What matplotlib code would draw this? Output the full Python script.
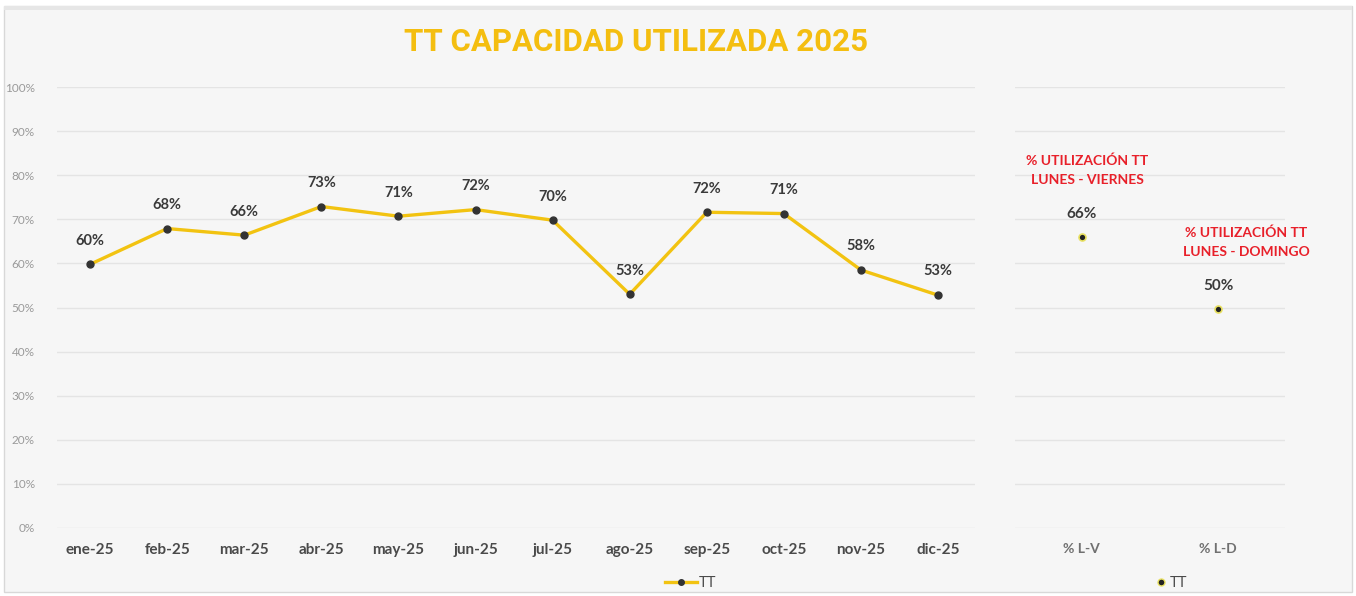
import matplotlib
matplotlib.use("Agg")
import matplotlib.pyplot as plt
from matplotlib.patches import Rectangle
from matplotlib.lines import Line2D

months = ["ene-25", "feb-25", "mar-25", "abr-25", "may-25", "jun-25",
          "jul-25", "ago-25", "sep-25", "oct-25", "nov-25", "dic-25"]
tt_monthly = [0.598, 0.679, 0.664, 0.729, 0.707, 0.722,
              0.698, 0.530, 0.716, 0.713, 0.585, 0.528]
summary_cats = ["% L-V", "% L-D"]
summary_vals = [0.659, 0.496]
summary_notes = ["% UTILIZACIÓN TT\nLUNES - VIERNES", "% UTILIZACIÓN TT\nLUNES - DOMINGO"]
yticks = [0, 0.1, 0.2, 0.3, 0.4, 0.5, 0.6, 0.7, 0.8, 0.9, 1.0]
title = "TT CAPACIDAD UTILIZADA 2025"
series_name = "TT"

GOLD = "#F2C311"
TITLE_GOLD = "#F4BE10"
DARK = "#3a3a3a"
GRID = "#e4e4e4"
BG = "#f6f6f6"
RED = "#e8202a"

plt.rcParams['font.family'] = ['Lato', 'DejaVu Sans']

fig = plt.figure(figsize=(13.56, 5.96), dpi=100)
fig.patch.set_facecolor("#ffffff")
fig.patches.append(Rectangle((4/1356, 4/596), 1348/1356, 586/596, transform=fig.transFigure,
                             facecolor=BG, edgecolor="#d8d8d8", lw=1.0, zorder=-10))
fig.patches.append(Rectangle((4/1356, 586/596), 1348/1356, 4/596, transform=fig.transFigure,
                             facecolor="#e6e6e6", edgecolor="none", zorder=-9))

ax = fig.add_axes([57/1356, 1-528/596, (975-57)/1356, (528-87)/596])
ax2 = fig.add_axes([1015/1356, 1-528/596, (1285-1015)/1356, (528-87)/596])

for a in (ax, ax2):
    a.set_facecolor("none")
    for s in a.spines.values():
        s.set_visible(False)
    a.set_ylim(0, 1.0)
    a.set_yticks(yticks)
    a.grid(axis="y", color=GRID, lw=1.0)
    a.set_axisbelow(True)
    a.tick_params(length=0)

# Left chart
x = list(range(len(months)))
ax.plot(x, tt_monthly, color=GOLD, lw=2.4, marker="o", ms=5,
        mfc="#333333", mec="#333333", zorder=3)
ax.set_xlim(-0.43, 11.48)
ax.set_xticks(x)
ax.set_xticklabels(months, fontsize=11, color="#4a4a4a", fontweight="bold")
ax.set_yticklabels([f"{int(round(v*100))}%" for v in yticks], fontsize=8.5, color="#9a9a9a")
ax.tick_params(axis="x", pad=11)
ax.tick_params(axis="y", pad=16)
for xi, v in zip(x, tt_monthly):
    ax.annotate(f"{v:.0%}", (xi, v), xytext=(0, 12), textcoords="offset points",
                ha="center", va="bottom", fontsize=10.5, color=DARK, fontweight="bold")

leg1 = ax.legend([Line2D([], [], color=GOLD, lw=2.4, marker="o", ms=4, mfc="#333333", mec="#333333")],
                 [series_name], loc="upper center", bbox_to_anchor=(0.69, -0.08),
                 frameon=False, fontsize=10.5, handlelength=2.2, handletextpad=0.1)
for t in leg1.get_texts():
    t.set_color("#4a4a4a")

# Right chart
x2 = list(range(len(summary_cats)))
ax2.plot(x2, summary_vals, ls="none", marker="o", ms=5, mfc="#222222", mec="#e8e060", mew=1.2, zorder=3)
ax2.set_xlim(-0.49, 1.49)
ax2.set_xticks(x2)
ax2.set_xticklabels(summary_cats, fontsize=10, color="#707070", fontweight="bold")
ax2.tick_params(axis="x", pad=11)
ax2.set_yticklabels([])
for xi, v, note in zip(x2, summary_vals, summary_notes):
    ax2.annotate(f"{v:.0%}", (xi, v), xytext=(0, 12), textcoords="offset points",
                 ha="center", va="bottom", fontsize=11, color=DARK, fontweight="bold")
    ax2.annotate(note, (xi, v), xytext=(4 if xi == 0 else 20, 37), textcoords="offset points",
                 ha="center", va="bottom", fontsize=10, color=RED, fontweight="bold",
                 linespacing=1.65)

leg2 = ax2.legend([Line2D([], [], ls="none", marker="o", ms=5, mfc="#222222", mec="#e8e060")],
                  [series_name], loc="upper center", bbox_to_anchor=(0.58, -0.08),
                  frameon=False, fontsize=10.5, handlelength=0.8, handletextpad=0.2)
for t in leg2.get_texts():
    t.set_color("#4a4a4a")

fig.text(636/1356, 1-42/596, title, ha="center", va="center", fontsize=22.5,
         fontweight="bold", color=TITLE_GOLD, family=['Roboto', 'DejaVu Sans'])

fig.savefig("out.png", dpi=100, facecolor=fig.get_facecolor())
